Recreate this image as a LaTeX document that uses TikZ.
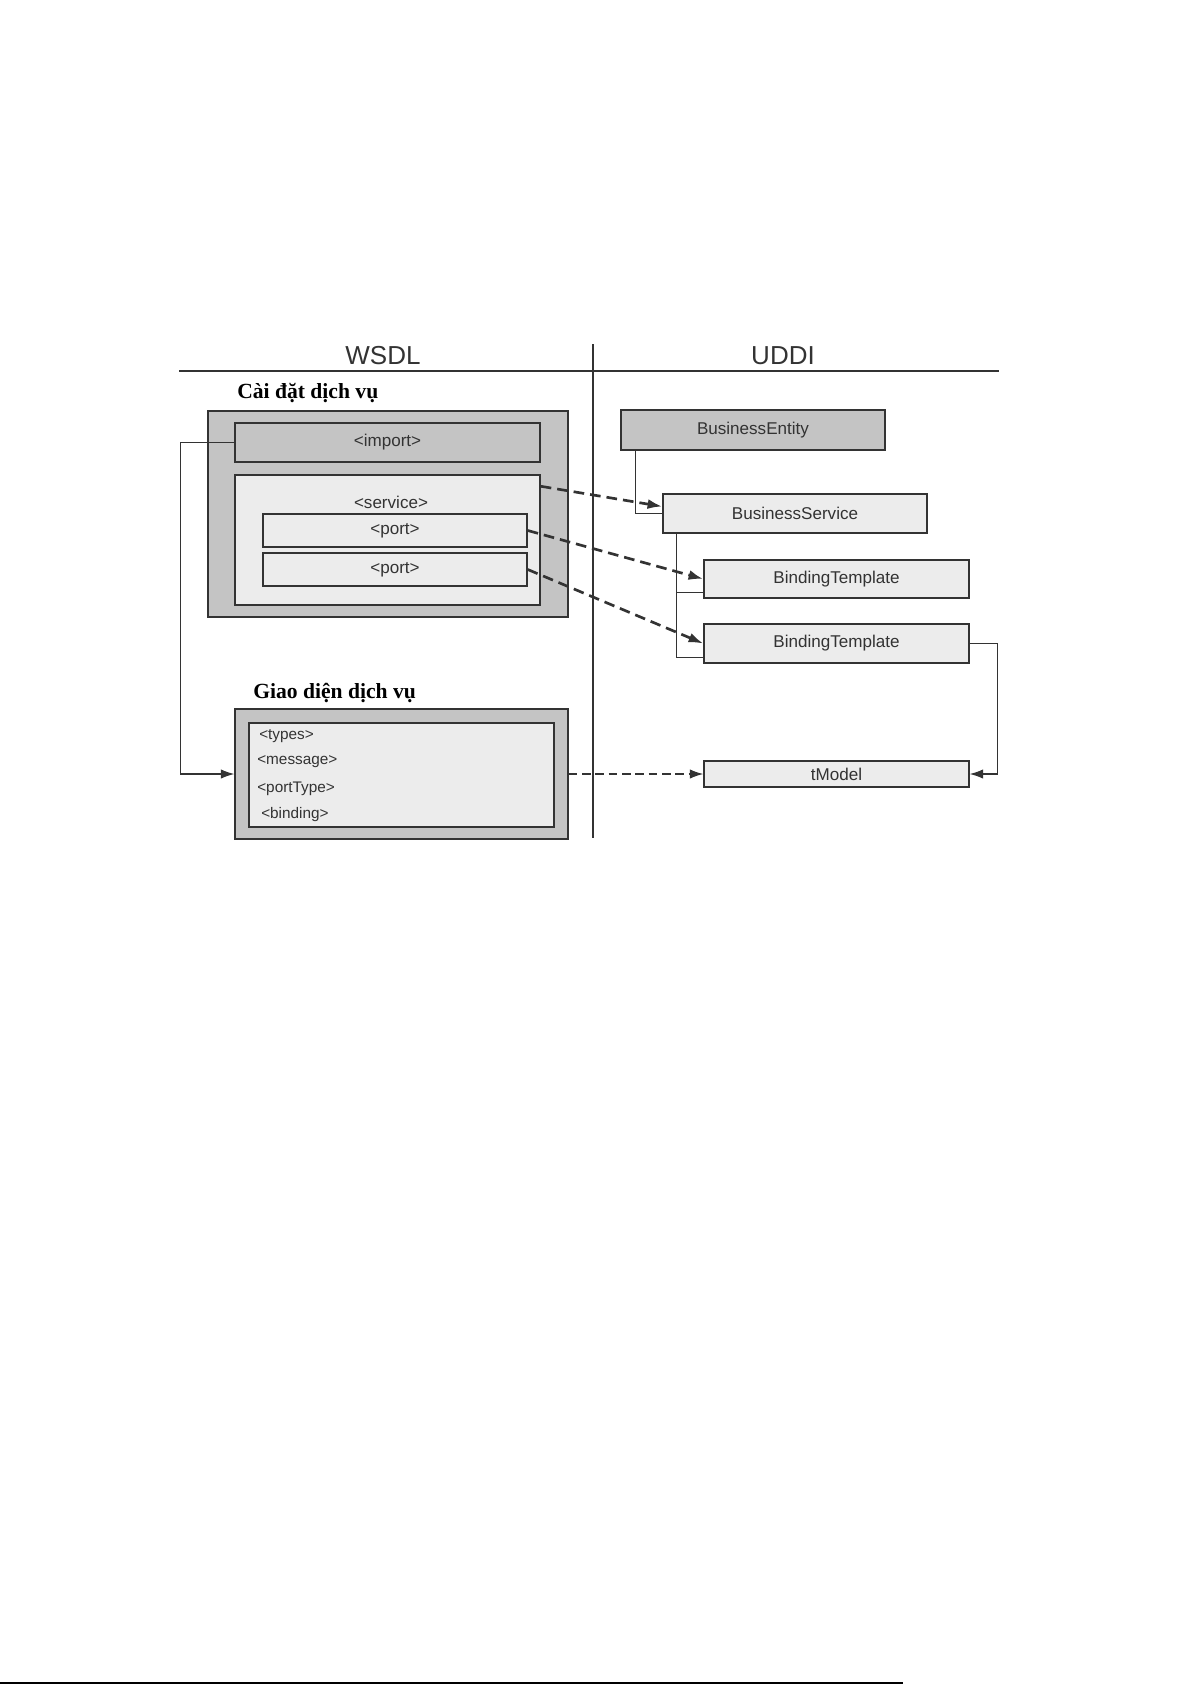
\documentclass[tikz,border=0pt]{standalone}
\usepackage{fontspec}
\setmainfont{Liberation Serif}
\setsansfont{Liberation Sans}
\usetikzlibrary{arrows.meta,calc}

\definecolor{boxdark}{HTML}{C4C4C4}
\definecolor{boxlight}{HTML}{ECECEC}
\definecolor{ink}{HTML}{333333}

\tikzset{
  boxsize/.style 2 args={minimum width=#1*0.75pt, minimum height=#2*0.75pt},
  head/.style={font=\sffamily\fontsize{19.5}{22}\selectfont, text=ink, inner sep=0pt},
  heading/.style={font=\bfseries\fontsize{16.2}{19}\selectfont, inner sep=0pt, anchor=base west},
  darkbox/.style={draw=ink, fill=boxdark, line width=1.1pt, inner sep=0pt,
    font=\sffamily\fontsize{12.8}{15}\selectfont, text=ink},
  lightbox/.style={draw=ink, fill=boxlight, line width=1.1pt, inner sep=0pt,
    font=\sffamily\fontsize{12.8}{15}\selectfont, text=ink},
  txt/.style={font=\sffamily\fontsize{12.8}{15}\selectfont, text=ink, inner sep=0pt},
  item/.style={font=\sffamily\fontsize{11.5}{14}\selectfont, text=ink, inner sep=0pt, anchor=west},
  rule/.style={draw=ink, line width=1.8pt},
  link/.style={draw=ink, line width=0.8pt},
  tip/.style={-{Latex[length=10pt,width=7pt]}},
  dasharrow/.style={draw=ink, line width=2pt, dash pattern=on 8pt off 4.5pt,
    -{Latex[length=11pt,width=7.5pt]}},
  thindash/.style={draw=ink, line width=0.9pt, dash pattern=on 6.5pt off 3.5pt,
    -{Latex[length=10pt,width=7pt]}}
}

\begin{document}
\begin{tikzpicture}[x=0.75pt,y=-0.75pt]

  % Page frame
  \useasboundingbox (0,0) rectangle (1192,1684);

  % Column headings and dividing lines
  \node[head] (wsdl) at (383,356) {WSDL};
  \node[head] (uddi) at (783,356) {UDDI};
  \draw[rule] (179,371) -- (999,371);
  \draw[rule] (593,344) -- (593,838);

  % Service implementation
  \node[heading] (impltitle) at (237,398) {Cài đặt dịch vụ};
  \node[darkbox, boxsize={360}{206}] (impl) at (388,514) {};
  \node[darkbox, boxsize={305}{39}] (import) at (387.5,442.5) {<import>};
  \node[lightbox, boxsize={305}{130}] (service) at (387.5,540) {};
  \node[txt] (servicelbl) at (391,502) {<service>};
  \node[lightbox, boxsize={264}{33}] (port1) at (395,530.5) {<port>};
  \node[lightbox, boxsize={264}{33}] (port2) at (395,569.5) {<port>};

  % Service interface
  \node[heading] (iftitle) at (253,698) {Giao diện dịch vụ};
  \node[darkbox, boxsize={333}{130}] (iface) at (401.5,774) {};
  \node[lightbox, boxsize={305}{104}] (ifinner) at (401.5,775) {};
  \node[item] (types) at (259,736) {<types>};
  \node[item] (message) at (257,762) {<message>};
  \node[item] (porttype) at (257,789) {<portType>};
  \node[item] (binding) at (261,815) {<binding>};

  % UDDI entities
  \node[darkbox, boxsize={264}{40}] (BE) at (753,430) {BusinessEntity};
  \node[lightbox, boxsize={264}{39}] (BS) at (795,513.5) {BusinessService};
  \node[lightbox, boxsize={265}{38}] (BT1) at (836.5,579) {BindingTemplate};
  \node[lightbox, boxsize={265}{39}] (BT2) at (836.5,643.5) {BindingTemplate};
  \node[lightbox, boxsize={265}{26}] (tModel) at (836.5,774) {tModel};

  % Containment lines on the UDDI side
  \draw[link] ($(BE.south west)+(15,0)$) |- (BS.west);
  \draw[link] ($(BS.south west)+(14,0)$) |- ($(BT2.south west)+(0,-6)$);
  \draw[link] ($(BS.south west)+(14,0)$) |- ($(BT1.south west)+(0,-6)$);
  \draw[link, tip] (BT2.east) -- ++(28,0) |- (tModel.east);

  % Import of the interface
  \draw[link, tip] (import.west) -- ++(-54,0) |- (iface.west);

  % Mapping WSDL to UDDI
  \draw[dasharrow] ($(service.north east)+(0,12)$) -- ($(BS.west)+(0,-7)$);
  \draw[dasharrow] (port1.east) -- (BT1.west);
  \draw[dasharrow] (port2.east) -- (BT2.west);
  \draw[thindash] (iface.east) -- (tModel.west);

  % Footer rule
  \draw[line width=0.8pt] (0,1683) -- (903,1683);

\end{tikzpicture}
\end{document}
